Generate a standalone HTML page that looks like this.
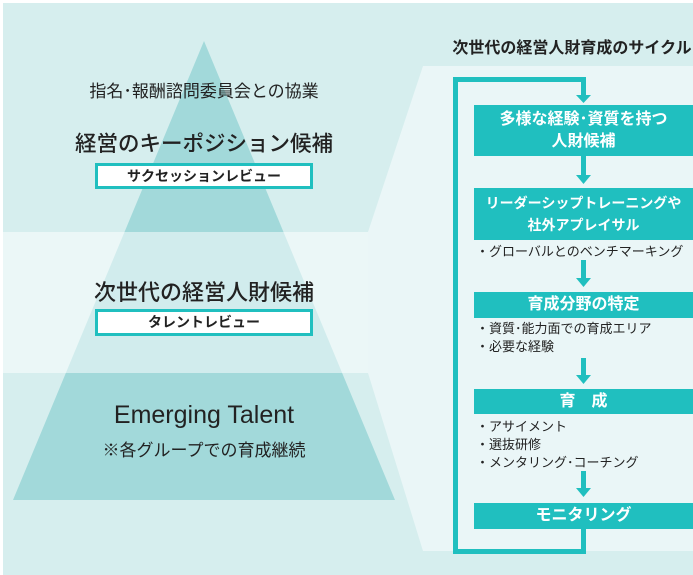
<!DOCTYPE html>
<html><head><meta charset="utf-8"><style>
body{margin:0;width:693px;height:575px;background:#fff;overflow:hidden;font-family:"Liberation Sans","Noto Sans CJK JP",sans-serif;color:#222}
.t{position:absolute;white-space:nowrap;text-align:center}
.bx{position:absolute;background:#20bfbf;color:#fff;font-weight:bold;font-size:16px;text-align:center;line-height:22px;display:flex;align-items:center;justify-content:center;flex-direction:column}
.li{position:absolute;left:476px;font-size:13px;line-height:18px;white-space:nowrap}
</style></head><body>
<svg width="693" height="575" style="position:absolute;left:0;top:0">
<rect x="3" y="3" width="690" height="572" fill="#d6eeee"/>
<polygon points="204,41 395,500 13,500" fill="#a2d9da"/>
<rect x="3" y="232" width="365" height="141" fill="#fff" fill-opacity="0.5"/>
<polygon points="368,232 423,66 693,66 693,551 423,551 368,373" fill="#eaf6f7"/>
<g fill="#20bfbf">
<rect x="453" y="77" width="5" height="477"/>
<rect x="453" y="77" width="133" height="5"/>
<rect x="453" y="549" width="133" height="5"/>
<rect x="581" y="77" width="5" height="20"/><polygon points="576,95 591,95 583.5,103"/>
<rect x="581" y="156" width="5" height="21"/><polygon points="576,175 591,175 583.5,184"/>
<rect x="581" y="260" width="5" height="20"/><polygon points="576,278 591,278 583.5,287"/>
<rect x="581" y="358" width="5" height="19"/><polygon points="576,375 591,375 583.5,384"/>
<rect x="581" y="471" width="5" height="19"/><polygon points="576,488 591,488 583.5,497"/>
<rect x="581" y="529" width="5" height="24"/>
</g>
</svg>
<div class="t" style="left:34px;width:340px;top:77px;font-size:17px">指名･報酬諮問委員会との協業</div>
<div class="t" style="left:34px;width:340px;top:127px;font-size:21.5px;font-weight:500">経営のキーポジション候補</div>
<div class="t" style="left:95px;width:212px;top:163px;height:20px;border:3px solid #20bfbf;background:#fff;font-size:14px;font-weight:bold;line-height:20px">サクセッションレビュー</div>
<div class="t" style="left:34px;width:340px;top:275px;font-size:22px;font-weight:500">次世代の経営人財候補</div>
<div class="t" style="left:95px;width:212px;top:309px;height:21px;border:3px solid #20bfbf;background:#fff;font-size:14px;font-weight:bold;line-height:21px">タレントレビュー</div>
<div class="t" style="left:34px;width:340px;top:401px;font-size:25px">Emerging Talent</div>
<div class="t" style="left:34px;width:340px;top:436px;font-size:17px">※各グループでの育成継続</div>
<div class="t" style="left:443px;width:258px;top:34px;font-size:16px;font-weight:bold">次世代の経営人財育成のサイクル</div>
<div class="bx" style="left:474px;top:105px;width:219px;height:51px"><span>多様な経験･資質を持つ</span><span>人財候補</span></div>
<div class="bx" style="left:474px;top:188px;width:219px;height:52px;font-size:14px"><span>リーダーシップトレーニングや</span><span>社外アプレイサル</span></div>
<div class="li" style="top:243px">・グローバルとのベンチマーキング</div>
<div class="bx" style="left:474px;top:292px;width:219px;height:26px">育成分野の特定</div>
<div class="li" style="top:320px">・資質･能力面での育成エリア</div>
<div class="li" style="top:338px">・必要な経験</div>
<div class="bx" style="left:474px;top:389px;width:219px;height:25px">育　成</div>
<div class="li" style="top:418px">・アサイメント</div>
<div class="li" style="top:436px">・選抜研修</div>
<div class="li" style="top:454px">・メンタリング･コーチング</div>
<div class="bx" style="left:474px;top:503px;width:219px;height:26px">モニタリング</div>
</body></html>
